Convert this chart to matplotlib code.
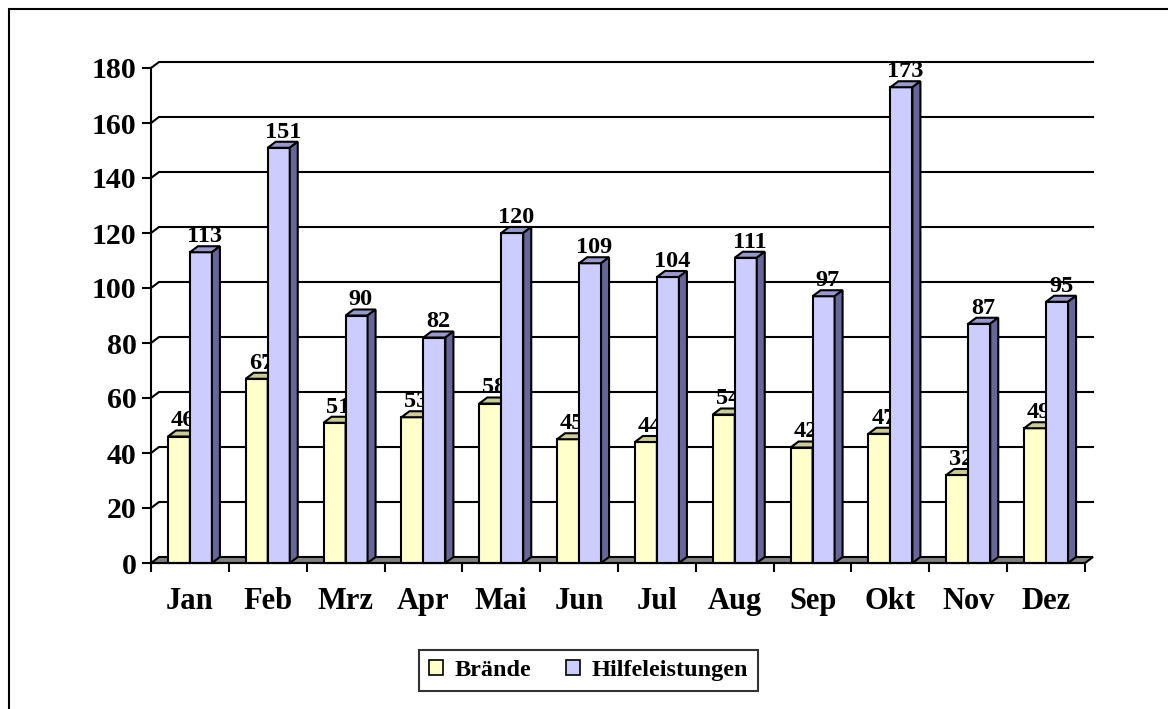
import matplotlib
matplotlib.use("Agg")
import matplotlib.pyplot as plt
from matplotlib.patches import Polygon, Rectangle, Patch
import numpy as np

months = ["Jan", "Feb", "Mrz", "Apr", "Mai", "Jun", "Jul", "Aug", "Sep", "Okt", "Nov", "Dez"]
braende = [46, 67, 51, 53, 58, 45, 44, 54, 42, 47, 32, 49]
hilfe = [113, 151, 90, 82, 120, 109, 104, 111, 97, 173, 87, 95]
yticks = [0, 20, 40, 60, 80, 100, 120, 140, 160, 180]

plt.rcParams['font.family'] = ['Liberation Serif', 'DejaVu Serif']
plt.rcParams['font.weight'] = 'bold'

W, H = 1168, 709
fig = plt.figure(figsize=(W / 100, H / 100), dpi=100)

x_left, x_right = 151, 1085
y_zero, y_top = 563, 68
ax = fig.add_axes([x_left / W, (H - y_zero) / H, (x_right - x_left) / W, (y_zero - y_top) / H])
ax.set_xlim(-0.5, 11.5)
ax.set_ylim(0, 180)
ax.patch.set_alpha(0)

px_x = (x_right - x_left) / 12.0
px_y = (y_zero - y_top) / 180.0
DX = 8 / px_x
DY = 6 / px_y
BW = 22 / px_x

lw = 1.5
# gridlines on back wall
for v in yticks[1:]:
    ax.plot([-0.5, -0.5 + DX, 11.5 + DX], [v, v + DY, v + DY], color='black', lw=lw,
            clip_on=False, zorder=1, solid_joinstyle='miter')
# floor
floor = Polygon([(-0.5, 0), (11.5, 0), (11.5 + DX, DY), (-0.5 + DX, DY)], closed=True,
                facecolor='#808080', edgecolor='black', lw=lw, clip_on=False, zorder=1.5)
ax.add_patch(floor)

x = np.arange(len(months))

def draw_series(xs, vals, face, top, side, z, labels_z):
    ax.bar(xs, vals, width=BW, align='edge', color=face, edgecolor='black', lw=lw,
           zorder=z, clip_on=False)
    for xi, v in zip(xs, vals):
        ax.add_patch(Polygon([(xi, v), (xi + BW, v), (xi + BW + DX, v + DY), (xi + DX, v + DY)],
                             closed=True, facecolor=top, edgecolor='black', lw=lw,
                             clip_on=False, zorder=z))
        ax.add_patch(Polygon([(xi + BW, 0), (xi + BW + DX, DY), (xi + BW + DX, v + DY), (xi + BW, v)],
                             closed=True, facecolor=side, edgecolor='black', lw=lw,
                             clip_on=False, zorder=z))
        ax.annotate(str(v), (xi + BW / 2 + DX / 2, v + DY), xytext=(0, 3),
                    textcoords='offset points', ha='center', va='baseline',
                    fontsize=17.5, fontweight='bold', zorder=labels_z,
                    annotation_clip=False)

draw_series(x - BW, braende, '#FFFFCC', '#CCCC99', '#999966', 2, 2.5)
draw_series(x, hilfe, '#CCCCFF', '#9999CC', '#666699', 3, 4)

for s in ['top', 'right']:
    ax.spines[s].set_visible(False)
for s in ['left', 'bottom']:
    ax.spines[s].set_linewidth(lw)
    ax.spines[s].set_zorder(5)

ax.set_yticks(yticks)
ax.set_yticklabels([str(t) for t in yticks], fontsize=21.5, fontweight='bold')
ax.tick_params(axis='y', length=6.5, width=lw, pad=4)
ax.set_xticks(np.arange(-0.5, 12, 1.0))
ax.set_xticklabels([])
ax.tick_params(axis='x', which='major', length=6.5, width=lw)
ax.set_xticks(x, minor=True)
ax.set_xticklabels(months, minor=True, fontsize=22, fontweight='bold')
ax.tick_params(axis='x', which='minor', length=0, pad=17)

handles = [Patch(facecolor='#FFFFCC', edgecolor='black', lw=1.2, label='Brände'),
           Patch(facecolor='#CCCCFF', edgecolor='black', lw=1.2, label='Hilfeleistungen')]
leg = fig.legend(handles=handles, loc='center', bbox_to_anchor=(588.5 / W, 1 - 670.5 / H),
                 ncol=2, frameon=True, fancybox=False,
                 handlelength=0.58, handleheight=0.58, handletextpad=0.5, columnspacing=1.4,
                 borderpad=0.4, prop={'weight': 'bold', 'size': 17.5})
leg.get_frame().set_edgecolor('black')
leg.get_frame().set_linewidth(1.5)

fig.patches.append(Rectangle((9 / W, -0.1), 1.2, 1 - 9 / H + 0.1, transform=fig.transFigure,
                             fill=False, edgecolor='black', lw=1.5, zorder=0))

fig.savefig('out.png', dpi=100)
